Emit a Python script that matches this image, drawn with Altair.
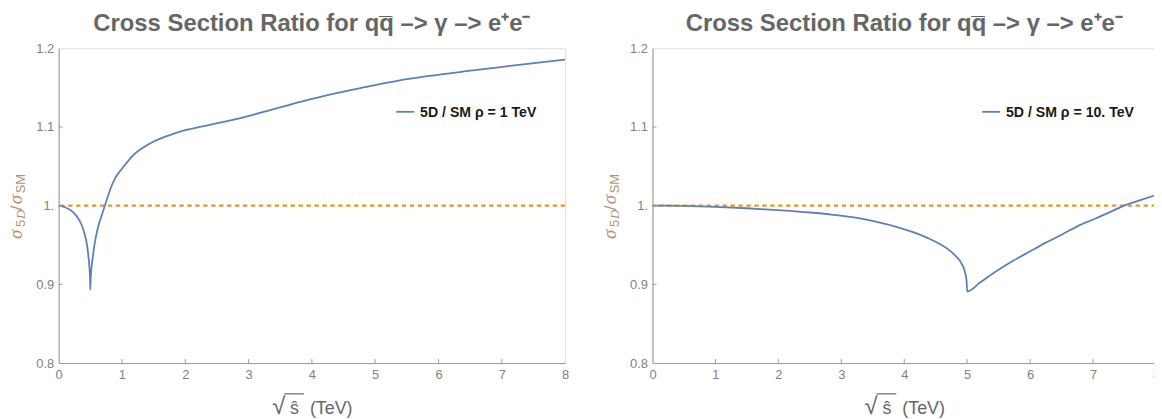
import altair as alt
import pandas as pd

# ---------------- data ----------------
left_x = [0.0, 0.05, 0.1, 0.15, 0.2, 0.25, 0.3, 0.355, 0.4, 0.434, 0.45, 0.476, 0.49, 0.495, 0.5,
          0.505, 0.51, 0.52, 0.54, 0.57, 0.59, 0.62, 0.67, 0.7, 0.73, 0.8, 0.826, 0.9, 1.0, 1.1, 1.19, 1.3,
          1.4, 1.5, 1.66, 1.8, 2.03, 2.25, 2.55, 2.8, 3.07, 3.3, 3.6, 3.8, 4.02, 4.3, 4.83,
          5.35, 5.87, 6.4, 6.92, 7.44, 8.0]
left_y = [1.0, 0.9995, 0.998, 0.996, 0.9935, 0.990, 0.985, 0.977, 0.967, 0.956, 0.949, 0.931, 0.917, 0.909, 0.893,
          0.906, 0.913, 0.922, 0.935, 0.952, 0.961, 0.972, 0.985, 0.9925, 1.0, 1.017, 1.023, 1.036, 1.047, 1.057, 1.065, 1.072,
          1.077, 1.0815, 1.087, 1.091, 1.0965, 1.1005, 1.1055, 1.110, 1.1155, 1.1205, 1.127, 1.1315, 1.136, 1.1415, 1.1505,
          1.1587, 1.165, 1.1705, 1.1755, 1.1806, 1.1857]

right_x = [0.0, 0.5, 1.0, 1.5, 2.05, 2.5, 2.84, 3.2, 3.63, 3.9, 4.15, 4.4, 4.57, 4.7, 4.83, 4.9, 4.96,
           4.99, 5.0, 5.2, 5.45, 5.73, 6.0, 6.25, 6.5, 6.78, 7.05, 7.3, 7.49, 7.75, 8.0]
right_y = [1.0, 0.9996, 0.9985, 0.9967, 0.994, 0.9913, 0.9887, 0.985, 0.978, 0.9725, 0.966, 0.958, 0.951, 0.9445, 0.935, 0.928, 0.917,
           0.905, 0.891, 0.902, 0.916, 0.930, 0.942, 0.953, 0.963, 0.975, 0.984, 0.993, 1.0, 1.007, 1.0136]

x_ticks = [0, 1, 2, 3, 4, 5, 6, 7, 8]
y_ticks = [0.8, 0.9, 1.0, 1.1, 1.2]
ref_value = [1.0]

title_text = "Cross Section Ratio for qq\u0305 \u2013> \u03b3 \u2013> e\u207ae\u207b"
legend_left = "5D / SM \u03c1 = 1 TeV"
legend_right = "5D / SM \u03c1 = 10. TeV"
xtitle_parts = ["\u221a", "\u015d", "(TeV)"]
ytitle_parts = ["\u03c3", "5", "D", "/", "\u03c3", "SM"]

# ---------------- styling ----------------
H = 317
BLUE = "#5e81b5"
ORANGE = "#e09c24"
FRAME = "#9a9a9a"
LABEL = "#7f7f7f"
YTITLE = "#b39173"
XTITLE = "#666666"
SANS = "Liberation Sans"
SERIF = "Liberation Serif"

one = pd.DataFrame({"k": [0]})
xsc = alt.Scale(domain=[0, 8], nice=False, zero=False)
ysc = alt.Scale(domain=[0.8, 1.2], nice=False, zero=False)

xax = alt.Axis(values=x_ticks, labelExpr="format(datum.value, 'd')", title=None, ticks=False,
               grid=False, labelFlush=False, labelOverlap=False, labelPadding=6,
               domainColor=FRAME, labelColor=LABEL, labelFontSize=13, labelFont=SANS)
yax = alt.Axis(values=y_ticks, labelExpr="datum.value == 1 ? '1.' : format(datum.value, '.1f')",
               title=None, ticks=False, grid=False, labelFlush=False, labelOverlap=False,
               labelPadding=5, domainColor=FRAME, labelColor=LABEL, labelFontSize=13, labelFont=SANS)


def txt(text, x, y, size, color, font=SANS, weight="normal", style="normal", angle=0,
        align="left", baseline="alphabetic"):
    return alt.Chart(one).mark_text(
        fontSize=size, font=font, fontWeight=weight, fontStyle=style, color=color,
        angle=angle, align=align, baseline=baseline
    ).encode(x=alt.value(x), y=alt.value(y), text=alt.value(text))


def panel(xs, ys, legend_label, leg_x, W):
    df = pd.DataFrame({"x": xs, "y": ys})

    ref = alt.Chart(pd.DataFrame({"y": ref_value})).mark_rule(
        color=ORANGE, strokeDash=[4.5, 3.5], strokeWidth=2.2
    ).encode(y=alt.Y("y:Q", scale=ysc, axis=yax))

    line = alt.Chart(df).mark_line(color=BLUE, strokeWidth=1.8, clip=True,
                                   interpolate="monotone").encode(
        x=alt.X("x:Q", scale=xsc, axis=xax),
        y=alt.Y("y:Q", scale=ysc, axis=yax),
    )

    xt = alt.Chart(pd.DataFrame({"x": x_ticks[1:-1]})).mark_rule(color=FRAME, strokeWidth=1).encode(
        x=alt.X("x:Q", scale=xsc, axis=xax), y=alt.value(H), y2=alt.value(H - 4))
    yt = alt.Chart(pd.DataFrame({"y": y_ticks[1:-1]})).mark_rule(color=FRAME, strokeWidth=1).encode(
        y=alt.Y("y:Q", scale=ysc, axis=yax), x=alt.value(0), x2=alt.value(4))

    swatch = alt.Chart(one).mark_rule(color=BLUE, strokeWidth=1.8).encode(
        x=alt.value(leg_x), x2=alt.value(leg_x + 18), y=alt.value(64))
    legtext = txt(legend_label, leg_x + 24, 69, 14.2, "#1a1a1a", weight="bold")

    title = txt(title_text, W / 2, -17, 24, "#666666", weight="bold", align="center")

    # x-axis title pieces: radical, s-hat, (TeV)
    cx = W / 2 - 40
    rad = txt(xtitle_parts[0], cx, 368, 24, XTITLE)
    vinc = alt.Chart(one).mark_rule(color=XTITLE, strokeWidth=1.2).encode(
        x=alt.value(cx + 12), x2=alt.value(cx + 32), y=alt.value(348))
    shat = txt(xtitle_parts[1], cx + 18, 368, 18, XTITLE)
    tev = txt(xtitle_parts[2], cx + 38, 368, 18, XTITLE)

    # y-axis title pieces (rotated)
    yt1 = txt(ytitle_parts[0], -37, 192, 19, YTITLE, font=SERIF, style="italic", angle=270)
    yt2 = txt(ytitle_parts[1], -34, 180, 13, YTITLE, angle=270)
    yt3 = txt(ytitle_parts[2], -34, 172, 13, YTITLE, font=SERIF, style="italic", angle=270)
    yt4 = txt(ytitle_parts[3], -37, 163, 17, YTITLE, angle=270)
    yt5 = txt(ytitle_parts[4], -37, 157, 19, YTITLE, font=SERIF, style="italic", angle=270)
    yt6 = txt(ytitle_parts[5], -34, 146, 13, YTITLE, angle=270)

    return alt.layer(ref, line, xt, yt, swatch, legtext, title, rad, vinc, shat, tev,
                     yt1, yt2, yt3, yt4, yt5, yt6).properties(width=W, height=H)


left = panel(left_x, left_y, legend_left, 340, 510)
right = panel(right_x, right_y, legend_right, 332, 507)

chart = alt.hconcat(left, right, spacing=88, bounds="flush").properties(
    autosize=alt.AutoSizeParams(type="none"),
    padding={"left": 51, "top": 38, "right": 1103, "bottom": 373},
).configure_view(stroke=FRAME, strokeWidth=1).configure(background="white")

chart.save("out.html", embed_options={"renderer": "svg", "actions": False})
